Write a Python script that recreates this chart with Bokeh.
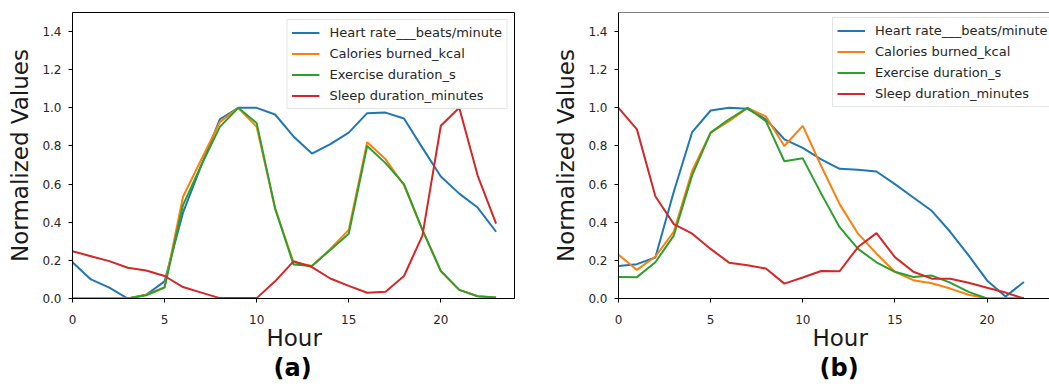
from bokeh.plotting import figure
from bokeh.layouts import row
from bokeh.models import (FixedTicker, PrintfTickFormatter, Legend, LegendItem,
                          Title, Span, Range1d)
from bokeh.embed import file_html
from bokeh.resources import INLINE

FONT = "DejaVu Sans"

series_names = ["Heart rate___beats/minute", "Calories burned_kcal",
                "Exercise duration_s", "Sleep duration_minutes"]
series_colors = ["#1f77b4", "#ff7f0e", "#2ca02c", "#d62728"]

x_ticks = [0, 5, 10, 15, 20]
y_ticks = [0.0, 0.2, 0.4, 0.6, 0.8, 1.0, 1.2, 1.4]

# Panel (a)
hours_a = list(range(24))
heart_a = [0.19, 0.10, 0.057, 0.0, 0.02, 0.09, 0.45, 0.70, 0.94, 1.0, 1.0, 0.965,
           0.85, 0.76, 0.81, 0.87, 0.972, 0.975, 0.944, 0.79, 0.64, 0.55, 0.477, 0.35]
cal_a = [0.0, 0.0, 0.0, 0.0, 0.02, 0.06, 0.534, 0.73, 0.925, 1.0, 0.90, 0.473,
         0.19, 0.17, 0.26, 0.36, 0.82, 0.73, 0.594, 0.36, 0.144, 0.045, 0.012, 0.005]
ex_a = [0.0, 0.0, 0.0, 0.0, 0.017, 0.057, 0.49, 0.70, 0.90, 1.0, 0.92, 0.473,
        0.178, 0.17, 0.255, 0.34, 0.80, 0.71, 0.60, 0.36, 0.144, 0.045, 0.012, 0.005]
sleep_a = [0.248, 0.222, 0.196, 0.161, 0.147, 0.118, 0.06, 0.031, 0.002, 0.002, 0.002, 0.09,
           0.195, 0.165, 0.105, 0.066, 0.03, 0.035, 0.118, 0.33, 0.906, 1.0, 0.645, 0.393]

# Panel (b)
hours_b = list(range(23))
heart_b = [0.17, 0.18, 0.215, 0.56, 0.873, 0.986, 1.0, 0.995, 0.94, 0.835, 0.79, 0.73,
           0.68, 0.675, 0.666, 0.60, 0.53, 0.46, 0.35, 0.226, 0.095, 0.01, 0.087]
cal_b = [0.23, 0.15, 0.22, 0.35, 0.67, 0.87, 0.93, 1.0, 0.955, 0.80, 0.905, 0.695,
         0.495, 0.34, 0.235, 0.14, 0.096, 0.08, 0.052, 0.02, 0.0, 0.0, 0.0]
ex_b = [0.113, 0.112, 0.19, 0.33, 0.647, 0.87, 0.94, 1.0, 0.93, 0.72, 0.735, 0.55,
        0.374, 0.26, 0.19, 0.14, 0.113, 0.12, 0.083, 0.035, 0.0, 0.0, 0.0]
sleep_b = [1.0, 0.887, 0.536, 0.39, 0.34, 0.26, 0.188, 0.174, 0.157, 0.078, 0.11, 0.144,
           0.143, 0.27, 0.343, 0.217, 0.14, 0.104, 0.104, 0.083, 0.056, 0.031, 0.0]

x_label = "Hour"
y_label = "Normalized Values"


def make_panel(hours, series, tag, width, x_end, mb_left, mb_right, mb_top,
               mb_bottom, legend_loc, full_outline):
    p = figure(width=width, height=388, x_range=Range1d(0, x_end),
               y_range=Range1d(0, 1.5), output_backend="svg",
               toolbar_location=None, min_border_left=mb_left,
               min_border_right=mb_right, min_border_top=mb_top,
               min_border_bottom=mb_bottom)
    p.xgrid.visible = False
    p.ygrid.visible = False
    p.background_fill_color = "white"
    p.border_fill_color = "white"

    items = []
    for name, vals, col in zip(series_names, series, series_colors):
        r = p.line(hours, vals, line_color=col, line_width=2)
        items.append(LegendItem(label=name, renderers=[r]))

    legend = Legend(items=items, location=legend_loc, margin=7, padding=4,
                    spacing=4, glyph_width=28, glyph_height=17, label_height=17,
                    label_standoff=10, label_text_font=FONT,
                    label_text_font_size="13px", label_text_color="#262626",
                    border_line_color="#cccccc", border_line_width=1,
                    background_fill_color="white", background_fill_alpha=0.8)
    p.add_layout(legend)

    for ax in (p.xaxis, p.yaxis):
        ax.major_tick_in = 0
        ax.major_tick_out = 4
        ax.minor_tick_line_color = None
        ax.axis_line_color = "black"
        ax.major_tick_line_color = "black"
        ax.major_label_text_font = FONT
        ax.major_label_text_font_size = "12px"
        ax.major_label_text_color = "#262626"
        ax.major_label_standoff = 7
    p.xaxis.major_label_standoff = 12
    p.xaxis.ticker = FixedTicker(ticks=x_ticks)
    p.yaxis.ticker = FixedTicker(ticks=y_ticks)
    p.yaxis.formatter = PrintfTickFormatter(format="%.1f")
    p.yaxis.axis_label = y_label
    p.yaxis.axis_label_text_font = FONT
    p.yaxis.axis_label_text_font_size = "23px"
    p.yaxis.axis_label_text_font_style = "normal"
    p.yaxis.axis_label_text_color = "#1a1a1a"
    p.yaxis.axis_label_standoff = 6

    if full_outline:
        p.outline_line_color = "black"
        p.outline_line_width = 1
    else:
        p.outline_line_color = None
        p.add_layout(Span(location=1.5, dimension="width", line_color="black",
                          line_width=1))

    p.add_layout(Title(text=x_label, align="left", offset=194, text_font=FONT,
                       text_font_size="23px", text_font_style="normal",
                       text_color="#1a1a1a", standoff=-8), "below")
    p.add_layout(Title(text=tag, align="left", offset=201, text_font=FONT,
                       text_font_size="24px", text_font_style="bold",
                       text_color="black", standoff=10), "below")
    return p


pa = make_panel(hours_a, [heart_a, cal_a, ex_a, sleep_a], "(a)", 538, 24.0,
                72, 24, 11, 90, "top_right", True)
pb = make_panel(hours_b, [heart_b, cal_b, ex_b, sleep_b], "(b)", 511, 23.39,
                80, 0, 12, 88, (214, 191), False)

layout = row(pa, pb)
open("out.html", "w").write(file_html(layout, INLINE))
